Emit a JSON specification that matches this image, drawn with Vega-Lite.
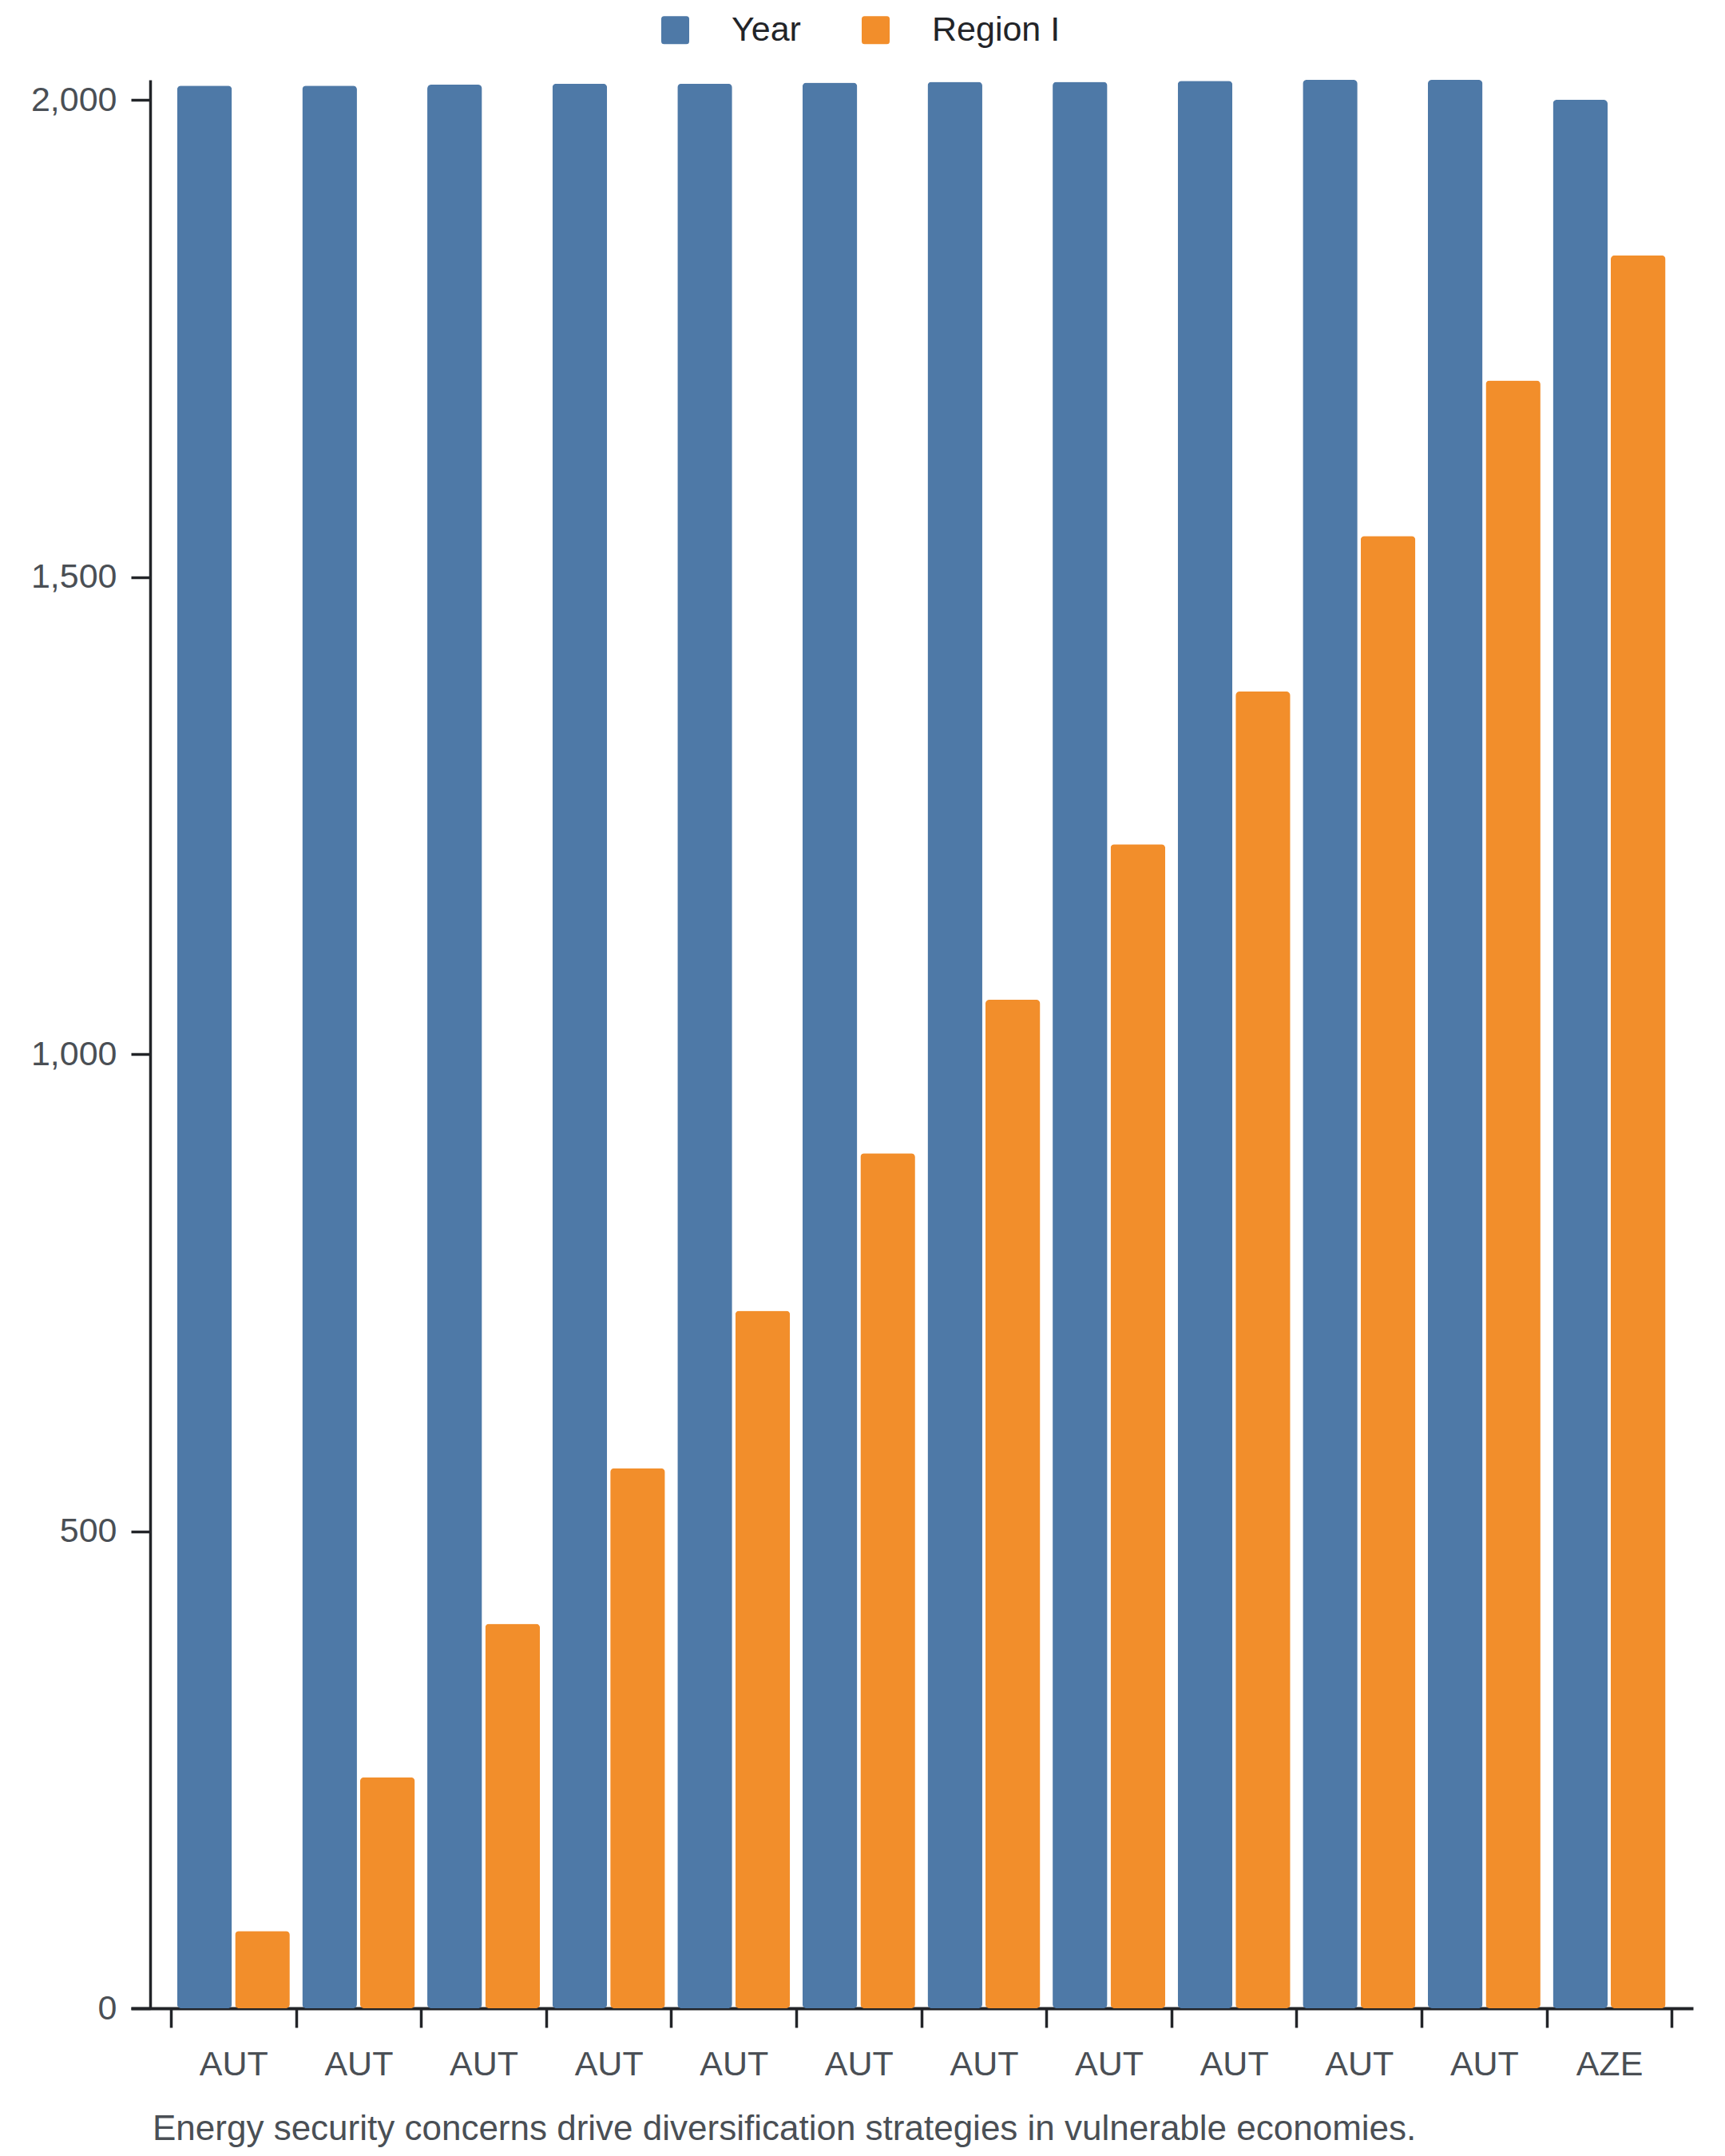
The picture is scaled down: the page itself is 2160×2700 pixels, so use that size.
{
  "$schema": "https://vega.github.io/schema/vega-lite/v6.json",
  "autosize": {"type": "none"},
  "padding": {"left": 164, "top": 100, "right": 40, "bottom": 185},
  "width": 1956,
  "height": 2415,
  "background": "white",
  "title": {
    "text": "Energy security concerns drive diversification strategies in vulnerable economies.",
    "orient": "bottom",
    "anchor": "start",
    "frame": "group",
    "dx": 27,
    "offset": 38,
    "font": "Liberation Sans",
    "fontSize": 44,
    "fontWeight": "normal",
    "color": "#4a4f55"
  },
  "data": {
    "values": [
      {"key": "AUT_0", "series": "Year", "value": 2015},
      {"key": "AUT_0", "series": "Region I", "value": 81},
      {"key": "AUT_1", "series": "Year", "value": 2015},
      {"key": "AUT_1", "series": "Region I", "value": 242},
      {"key": "AUT_2", "series": "Year", "value": 2016},
      {"key": "AUT_2", "series": "Region I", "value": 403},
      {"key": "AUT_3", "series": "Year", "value": 2017},
      {"key": "AUT_3", "series": "Region I", "value": 566},
      {"key": "AUT_4", "series": "Year", "value": 2017},
      {"key": "AUT_4", "series": "Region I", "value": 731},
      {"key": "AUT_5", "series": "Year", "value": 2018},
      {"key": "AUT_5", "series": "Region I", "value": 896},
      {"key": "AUT_6", "series": "Year", "value": 2019},
      {"key": "AUT_6", "series": "Region I", "value": 1057},
      {"key": "AUT_7", "series": "Year", "value": 2019},
      {"key": "AUT_7", "series": "Region I", "value": 1220},
      {"key": "AUT_8", "series": "Year", "value": 2020},
      {"key": "AUT_8", "series": "Region I", "value": 1380},
      {"key": "AUT_9", "series": "Year", "value": 2021},
      {"key": "AUT_9", "series": "Region I", "value": 1543},
      {"key": "AUT_10", "series": "Year", "value": 2021},
      {"key": "AUT_10", "series": "Region I", "value": 1706},
      {"key": "AZE_11", "series": "Year", "value": 2000},
      {"key": "AZE_11", "series": "Region I", "value": 1837}
    ]
  },
  "mark": {"type": "bar", "cornerRadius": 5},
  "encoding": {
    "x": {
      "field": "key",
      "type": "nominal",
      "sort": null,
      "scale": {"paddingInner": 0, "paddingOuter": 0.245, "align": 0.652},
      "axis": {
        "title": null,
        "labelExpr": "split(datum.label, '_')[0]",
        "labelAngle": 0,
        "tickBand": "extent",
        "tickSize": 24,
        "tickWidth": 3.5,
        "tickColor": "#222428",
        "domainColor": "#222428",
        "domainWidth": 4,
        "labelPadding": 25,
        "labelFont": "Liberation Sans",
        "labelFontSize": 43,
        "labelColor": "#4a4f55"
      }
    },
    "xOffset": {
      "field": "series",
      "type": "nominal",
      "scale": {"domain": ["Year", "Region I"], "paddingInner": 0.055, "paddingOuter": 0.1075}
    },
    "y": {
      "field": "value",
      "type": "quantitative",
      "scale": {"domain": [0, 2021], "nice": false},
      "axis": {
        "title": null,
        "grid": false,
        "values": [0, 500, 1000, 1500, 2000],
        "format": ",d",
        "offset": -24,
        "tickSize": 24,
        "tickWidth": 3.5,
        "tickColor": "#222428",
        "domainColor": "#222428",
        "domainWidth": 3.5,
        "labelPadding": 18,
        "labelFont": "Liberation Sans",
        "labelFontSize": 43,
        "labelColor": "#4a4f55"
      }
    },
    "color": {
      "field": "series",
      "type": "nominal",
      "scale": {"domain": ["Year", "Region I"], "range": ["#4e79a7", "#f28e2b"]},
      "legend": {
        "title": null,
        "orient": "none",
        "direction": "horizontal",
        "legendX": 660,
        "legendY": -84,
        "padding": 0,
        "symbolType": "M-0.8,-1H0.8Q1,-1,1,-0.8V0.8Q1,1,0.8,1H-0.8Q-1,1,-1,0.8V-0.8Q-1,-1,-0.8,-1Z",
        "symbolSize": 1225,
        "symbolStrokeWidth": 0,
        "symbolOpacity": 1,
        "labelOffset": 49,
        "columnPadding": 72,
        "labelLimit": 500,
        "labelFont": "Liberation Sans",
        "labelFontSize": 43,
        "labelColor": "#222428"
      }
    }
  },
  "config": {
    "view": {"stroke": null}
  }
}
